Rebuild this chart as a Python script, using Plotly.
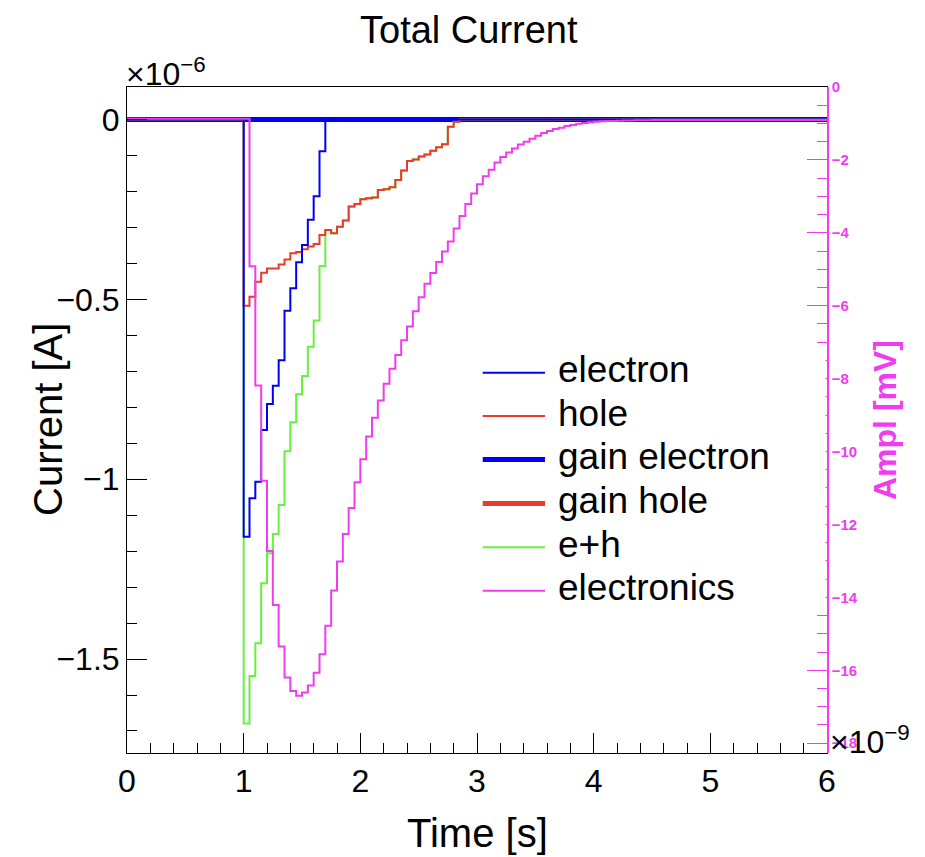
import plotly.graph_objects as go

# ---------------- data (time in ns, current in 1e-6 A, amplitude in mV) ----------------
BIN_WIDTH = 0.05
N_BINS = 120

x_tick_vals = [0, 1, 2, 3, 4, 5, 6]
x_tick_text = ["0", "1", "2", "3", "4", "5", "6"]
y_tick_vals = [0, -0.5, -1, -1.5]
y_tick_text = ["0", "\u22120.5", "\u22121", "\u22121.5"]
y2_tick_vals = [0, -2, -4, -6, -8, -10, -12, -14, -16, -18]
y2_tick_text = ["0", "\u22122", "\u22124", "\u22126", "\u22128", "\u221210", "\u221212", "\u221214", "\u221216", "\u221218"]

electron_start = 1.00
electron = [-1.160, -1.053, -1.007, -0.863, -0.791, -0.740, -0.669, -0.532, -0.469,
            -0.397, -0.349, -0.279, -0.213, -0.088]

hole_start = 1.00
hole = [-0.518, -0.493, -0.451, -0.426, -0.414, -0.414, -0.403, -0.389, -0.372, -0.368,
        -0.361, -0.353, -0.346, -0.321, -0.307, -0.316, -0.298, -0.281, -0.242, -0.235,
        -0.222, -0.219, -0.217, -0.196, -0.194, -0.188, -0.168, -0.142, -0.115, -0.111,
        -0.103, -0.097, -0.087, -0.077, -0.069, -0.020, -0.006]

eh_start = 1.00
eh = [-1.679, -1.547, -1.456, -1.289, -1.206, -1.152, -1.072, -0.922, -0.842, -0.764,
      -0.713, -0.632, -0.559, -0.407, -0.307, -0.316, -0.298, -0.281, -0.242, -0.235,
      -0.222, -0.219, -0.217, -0.196, -0.194, -0.188, -0.168, -0.142, -0.115, -0.111,
      -0.103, -0.097, -0.087, -0.077, -0.069, -0.020, -0.006]

gain_electron_level = 0.0
gain_hole_level = 0.0

electronics_start = 1.05
electronics = [-4.92, -8.19, -10.80, -12.73, -14.21, -15.35, -16.20, -16.57, -16.70, -16.61,
               -16.42, -16.07, -15.56, -14.78, -13.81, -13.02, -12.26, -11.55, -10.84, -10.21,
               -9.59, -9.07, -8.60, -8.14, -7.73, -7.35, -6.95, -6.57, -6.15, -5.77,
               -5.40, -5.10, -4.80, -4.51, -4.24, -3.88, -3.54, -3.21, -2.92, -2.67,
               -2.45, -2.27, -2.07, -1.92, -1.80, -1.69, -1.58, -1.50, -1.42, -1.34,
               -1.26, -1.21, -1.15, -1.12, -1.07, -1.04, -1.01, -0.99, -0.97, -0.95,
               -0.94, -0.935, -0.93, -0.925, -0.92, -0.918, -0.915, -0.912, -0.91, -0.908]
electronics_baseline_before = -0.87
electronics_baseline_after = -0.905

# ---------------- helpers ----------------
edges = [round(i * BIN_WIDTH, 4) for i in range(N_BINS + 1)]


def histogram(start, values, before=0.0, after=0.0):
    n_before = int(round(start / BIN_WIDTH))
    full = [before] * n_before + list(values)
    full = full + [after] * (N_BINS - len(full))
    return edges, full + [full[-1]]


BLUE = "#0000f5"
RED = "#ea3a2a"
GREEN = "#66f040"
MAGENTA = "#f03cf0"
FONT = "Liberation Sans, Arial, sans-serif"

fig = go.Figure()


def add_hist(x, y, color, width, axis="y"):
    fig.add_trace(go.Scatter(x=x, y=y, mode="lines", line=dict(color=color, width=width, shape="hv"),
                             yaxis=axis, showlegend=False, hoverinfo="skip"))


add_hist(*histogram(0.0, [], gain_hole_level, gain_hole_level), RED, 5)
add_hist(*histogram(0.0, [], gain_electron_level, gain_electron_level), BLUE, 5)
add_hist(*histogram(eh_start, eh), GREEN, 2)
add_hist(*histogram(hole_start, hole), RED, 2)
add_hist(*histogram(electron_start, electron), BLUE, 2)
add_hist(*histogram(electronics_start, electronics, electronics_baseline_before,
                    electronics_baseline_after), MAGENTA, 2, "y2")

# ---------------- layout ----------------
PL, PR, PT, PB = 127, 827, 87, 753
W, H = 925, 857


def px(x):
    return (x - PL) / (PR - PL)


def py(y):
    return (PB - y) / (PB - PT)


fig.update_layout(
    width=W, height=H,
    margin=dict(l=PL, r=W - PR, t=PT, b=H - PB, pad=0),
    paper_bgcolor="white", plot_bgcolor="white",
    showlegend=False,
    font=dict(family=FONT, color="black"),
    xaxis=dict(range=[0, 6], tickvals=x_tick_vals, ticktext=x_tick_text,
               ticks="inside", ticklen=20, tickwidth=1, tickcolor="black",
               minor=dict(tick0=0, dtick=0.2, ticks="inside", ticklen=10, tickcolor="black", showgrid=False),
               showgrid=False, zeroline=False, showline=True, linecolor="black", linewidth=1, mirror=True,
               tickfont=dict(size=32, family=FONT, color="black")),
    yaxis=dict(range=[-1.7612, 0.0904], tickvals=y_tick_vals, ticktext=y_tick_text,
               ticks="inside", ticklen=20, tickwidth=1, tickcolor="black",
               minor=dict(tick0=0, dtick=0.1, ticks="inside", ticklen=10, tickcolor="black", showgrid=False),
               showgrid=False, zeroline=False, showline=True, linecolor="black", linewidth=1, mirror=True,
               tickfont=dict(size=32, family=FONT, color="black")),
    yaxis2=dict(range=[-18.27, 0], overlaying="y", side="right", tickvals=y2_tick_vals, ticktext=y2_tick_text,
                ticks="inside", ticklen=20, tickwidth=1, tickcolor=MAGENTA,
                minor=dict(tick0=0, dtick=0.5, ticks="inside", ticklen=10, tickcolor=MAGENTA, showgrid=False),
                showgrid=False, zeroline=False, showline=True, linecolor=MAGENTA, linewidth=1.5,
                tickfont=dict(size=15, family=FONT, color=MAGENTA, weight="bold")),
)

# legend box (white) and legend entries
shapes = [dict(type="rect", xref="paper", yref="paper", x0=px(470), x1=px(825.5), y0=py(610), y1=py(346),
               fillcolor="white", line=dict(width=0), layer="above")]
legend_rows = [("electron", BLUE, 2), ("hole", RED, 2), ("gain electron", BLUE, 5),
               ("gain hole", RED, 5), ("e+h", GREEN, 2), ("electronics", MAGENTA, 2)]
row_y = [372.7, 416, 459.5, 503.5, 547.3, 590.7]
annotations = []
for (label, color, width), ry in zip(legend_rows, row_y):
    shapes.append(dict(type="line", xref="paper", yref="paper", x0=px(482.7), x1=px(545), y0=py(ry), y1=py(ry),
                       line=dict(color=color, width=width), layer="above"))
    annotations.append(dict(text=label, xref="paper", yref="paper", x=px(556), y=py(ry - 3),
                            xanchor="left", yanchor="middle", showarrow=False,
                            font=dict(size=37, family=FONT, color="black")))

annotations += [
    dict(text="Total Current", xref="paper", yref="paper", x=px(469), y=py(30), xanchor="center",
         yanchor="middle", showarrow=False, font=dict(size=38, family=FONT, color="black")),
    dict(text="\u00d710<sup>\u22126</sup>", xref="paper", yref="paper", x=px(124), y=py(72), xanchor="left",
         yanchor="middle", showarrow=False, font=dict(size=32, family=FONT, color="black")),
    dict(text="\u00d710<sup>\u22129</sup>", xref="paper", yref="paper", x=px(828), y=py(740), xanchor="left",
         yanchor="middle", showarrow=False, font=dict(size=32, family=FONT, color="black")),
    dict(text="Time [s]", xref="paper", yref="paper", x=px(477), y=py(833), xanchor="center",
         yanchor="middle", showarrow=False, font=dict(size=40, family=FONT, color="black")),
    dict(text="Current [A]", xref="paper", yref="paper", x=px(48), y=py(420), xanchor="center",
         yanchor="middle", textangle=-90, showarrow=False, font=dict(size=40, family=FONT, color="black")),
    dict(text="Ampl [mV]", xref="paper", yref="paper", x=px(885), y=py(420), xanchor="center",
         yanchor="middle", textangle=-90, showarrow=False,
         font=dict(size=32, family=FONT, color=MAGENTA, weight="bold")),
]

fig.update_layout(shapes=shapes, annotations=annotations)
fig.write_html("out.html")
